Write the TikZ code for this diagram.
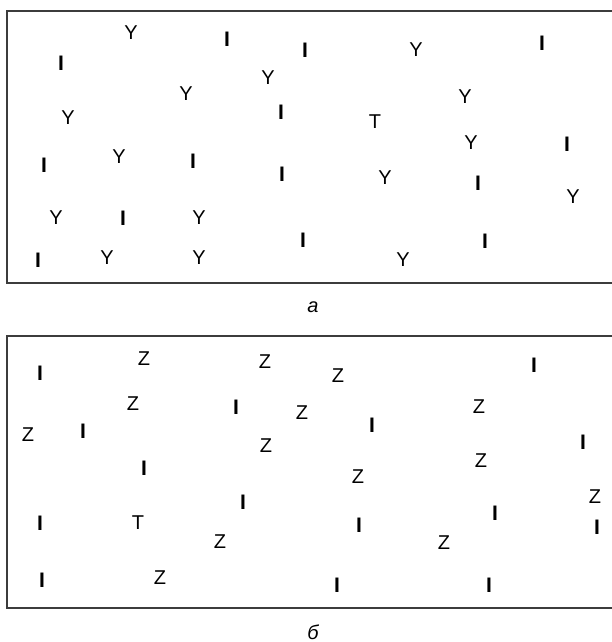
\documentclass[tikz,border=0pt]{standalone}
\usepackage{fontspec}
\setmainfont{Liberation Sans}
\usepackage{xcolor}
\usepackage{tikz}
\usetikzlibrary{positioning}
\definecolor{framegray}{HTML}{3C3C3C}

\tikzset{
    letter/.style={inner sep=0pt, font=\fontsize{20}{20}\selectfont},
    bar/.style={inner sep=0pt, font=\fontsize{21}{21}\selectfont\bfseries},
    panel/.style={draw=framegray, line width=1.2pt},
    caption/.style={inner sep=0pt, anchor=base, font=\fontsize{20}{20}\selectfont\itshape}
}

\begin{document}
\begin{tikzpicture}[x=1pt, y=-1pt]
    \useasboundingbox (0,0) rectangle (612,642);

    % Frames (right side runs off the page)
    \draw[panel] (612,11) -- (7,11) -- (7,283) -- (612,283);
    \draw[panel] (612,336) -- (7,336) -- (7,608) -- (612,608);

    % Panel a
    \foreach \x/\y [count=\i] in {131/33, 416/50, 268/78, 186/94, 465/97, 68/118, 471/143, 119/157,
        385/178, 573/197, 56/218, 199/218, 107/258, 199/258, 403/260}
        \node[letter] (ya\i) at (\x,\y) {Y};
    \foreach \x/\y [count=\i] in {227/39, 305/50, 542/43, 61/63, 281/112, 567/144, 44/165, 193/161,
        282/174, 478/183, 123/218, 303/240, 485/241, 38/260}
        \node[bar] (ia\i) at (\x,\y) {I};
    \node[letter] (ta) at (375,122) {T};
    \node[caption] (capa) at (313,312) {а};

    % Panel b
    \foreach \x/\y [count=\i] in {144/359, 265/362, 338/376, 133/404, 302/413, 479/407, 28/435,
        266/446, 358/477, 481/461, 595/497, 220/542, 444/543, 160/578}
        \node[letter] (zb\i) at (\x,\y) {Z};
    \foreach \x/\y [count=\i] in {40/373, 534/365, 236/407, 372/425, 83/431, 583/442, 144/468,
        243/502, 495/513, 40/523, 359/525, 597/527, 42/580, 337/585, 489/585}
        \node[bar] (ib\i) at (\x,\y) {I};
    \node[letter] (tb) at (138,523) {T};
    \node[caption] (capb) at (313,639) {б};
\end{tikzpicture}
\end{document}
